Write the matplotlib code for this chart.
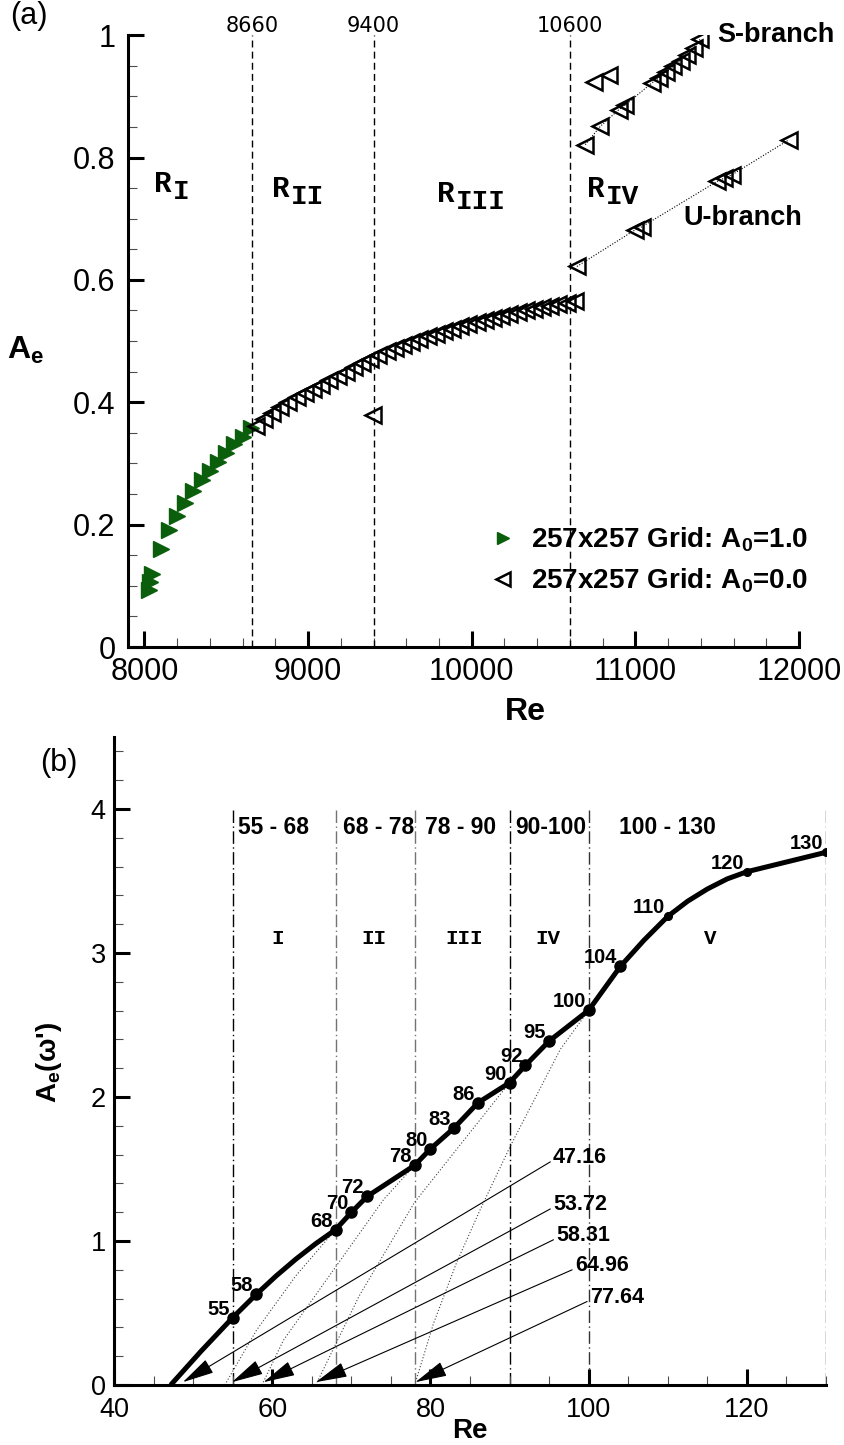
import matplotlib
matplotlib.use('Agg')
import matplotlib.pyplot as plt
from matplotlib.ticker import MultipleLocator

# ---------------- panel (a) : A_e versus Re, lid-driven cavity
re_a1 = [8030, 8035, 8045, 8100, 8150, 8200, 8250, 8300, 8350, 8400, 8450, 8500, 8550, 8600, 8650]
ae_a1 = [0.093, 0.107, 0.120, 0.161, 0.191, 0.214, 0.236, 0.255, 0.273, 0.288, 0.303, 0.317, 0.332, 0.344, 0.358]

re_a0 = [8680, 8730, 8780, 8830, 8880, 8930, 8980, 9030, 9080, 9130,
         9180, 9230, 9280, 9330, 9380, 9430, 9480, 9530, 9580, 9630,
         9680, 9730, 9780, 9830, 9880, 9930, 9980, 10030, 10080, 10130,
         10180, 10230, 10280, 10330, 10380, 10430, 10480, 10530, 10580, 10630]
ae_a0 = [0.361, 0.373, 0.383, 0.392, 0.400, 0.408, 0.415, 0.422, 0.429, 0.436,
         0.443, 0.450, 0.457, 0.464, 0.471, 0.477, 0.483, 0.488, 0.493, 0.498,
         0.503, 0.508, 0.512, 0.516, 0.520, 0.524, 0.528, 0.532, 0.535, 0.538,
         0.541, 0.544, 0.547, 0.550, 0.552, 0.555, 0.558, 0.561, 0.563, 0.566]

re_outlier = [9395]
ae_outlier = [0.379]
re_jump = [10745, 10837]
ae_jump = [0.924, 0.935]

re_s = [10694, 10786, 10898, 10939, 11102, 11143, 11188, 11231, 11276, 11317, 11357, 11394]
ae_s = [0.821, 0.851, 0.878, 0.886, 0.922, 0.930, 0.939, 0.949, 0.958, 0.968, 0.979, 0.993]
re_u = [10643, 11000, 11041, 11500, 11541, 11592, 11939]
ae_u = [0.622, 0.682, 0.687, 0.761, 0.766, 0.772, 0.829]

re_bounds = [8660, 9400, 10600]
bound_labels = ['8660', '9400', '10600']
region_names = ['I', 'II', 'III', 'IV']
region_re = [8061, 8778, 9788, 10706]
region_ae = [0.744, 0.736, 0.728, 0.736]

xticks_a = [8000, 9000, 10000, 11000, 12000]
yticks_a = [0, 0.2, 0.4, 0.6, 0.8, 1.0]
ylabels_a = ['0', '0.2', '0.4', '0.6', '0.8', '1']

# ---------------- panel (b) : A_e(w') versus Re
re_dots = [55, 58, 68, 70, 72, 78, 80, 83, 86, 90, 92, 95, 100, 104, 110, 120, 130]
ae_dots = [0.468, 0.631, 1.079, 1.199, 1.31, 1.526, 1.64, 1.786, 1.96, 2.10,
           2.22, 2.389, 2.603, 2.907, 3.255, 3.565, 3.70]
# extra points (no dot drawn there)
re_curve_extra = [47.16, 51, 60.5, 63, 65.5, 107, 112.5, 115, 117.5]
ae_curve_extra = [0.0, 0.235, 0.758, 0.875, 0.982, 3.09, 3.36, 3.445, 3.515]

# dotted fits drawn from the critical Re of each regime
fit_re = [[54.0, 58.0, 63.0, 68.0],
          [58.7, 61.4, 74.1, 78.0],
          [65.5, 71.0, 78.0, 90.0],
          [78.0, 80.4, 83.3, 86.3, 90.1, 96.4, 100.0]]
fit_ae = [[0.0, 0.38, 0.76, 1.079],
          [0.0, 0.31, 1.29, 1.526],
          [0.0, 0.62, 1.27, 2.10],
          [0.0, 0.43, 0.85, 1.22, 1.66, 2.33, 2.603]]

re_crit = [47.16, 53.72, 58.31, 64.96, 77.64]
arrow_tip = [48.7, 54.9, 58.9, 65.5, 78.1]
arrow_tail = [(95.15, 1.55), (95.15, 1.223), (95.55, 1.009), (97.9, 0.80), (99.8, 0.58)]

re_vlines = [55, 68, 78, 90, 100, 130]
range_labels = ['55 - 68', '68 - 78', '78 - 90', '90-100', '100 - 130']
range_x = [60.1, 73.4, 83.85, 95.15, 110.0]
regime_names = ['I', 'II', 'III', 'IV', 'V']
regime_x = [60.7, 72.9, 84.2, 94.8, 115.4]


plt.rcParams['font.family'] = 'Liberation Sans'
plt.rcParams['mathtext.default'] = 'regular'

fig = plt.figure(figsize=(8.44, 14.45), dpi=100)
ax1 = fig.add_axes([0.1517, 0.5522, 0.795, 0.4235])
ax2 = fig.add_axes([0.1351, 0.0415, 0.8436, 0.4484])


def style_axes(ax, lsize, xpad, ypad):
    for s in ['top', 'right']:
        ax.spines[s].set_visible(False)
    for s in ['left', 'bottom']:
        ax.spines[s].set_linewidth(2.2)
    ax.tick_params(which='major', direction='in', length=11.5, width=2.2,
                   labelsize=lsize, top=False, right=False)
    ax.tick_params(axis='x', which='major', pad=xpad)
    ax.tick_params(axis='y', which='major', pad=ypad)
    ax.tick_params(which='minor', direction='in', length=6.5, width=0.8,
                   color='0.3', top=False, right=False)


# ----- panel (a)
green = '#0b5e0b'
ax1.plot(re_a1, ae_a1, ls='none', marker='>', ms=11, color=green, mec=green,
         label='257x257 Grid: A$_0$=1.0')
open_kw = dict(marker='<', ms=12, mfc='none', mec='k', mew=1.8)
ax1.plot(re_a0, ae_a0, ls='none', label='257x257 Grid: A$_0$=0.0', **open_kw)
ax1.plot(re_outlier, ae_outlier, ls='none', **open_kw)
ax1.plot(re_jump, ae_jump, ls='none', **open_kw)
ax1.plot(re_s, ae_s, color='k', lw=0.8, ls=(0, (1, 1.5)), **open_kw)
ax1.plot(re_u, ae_u, color='k', lw=0.8, ls=(0, (1, 1.5)), **open_kw)

for x, lbl in zip(re_bounds, bound_labels):
    ax1.plot([x, x], [0, 1], color='k', lw=1.0, ls=(0, (5, 3)))
    ax1.text(x, 1.005, lbl, ha='center', va='baseline', family='DejaVu Sans', fontsize=15)

for x, y, name in zip(region_re, region_ae, region_names):
    ax1.text(x, y, 'R', family='Liberation Mono', weight='bold', fontsize=21,
             ha='left', va='baseline')
    ax1.annotate(name, (x, y), xytext=(13.5, -5), textcoords='offset points',
                 family='Liberation Mono', weight='bold', fontsize=20,
                 ha='left', va='baseline')

ax1.text(11500, 0.989, 'S-branch', fontsize=19.5, weight='bold', ha='left', va='baseline')
ax1.text(11294, 0.690, 'U-branch', fontsize=19.5, weight='bold', ha='left', va='baseline')

leg = ax1.legend(loc='center left', bbox_to_anchor=(0.538, 0.1415), frameon=False,
                 prop=dict(weight='bold', size=20), handlelength=1.0,
                 handletextpad=0.5, labelspacing=0.45, markerscale=0.85,
                 borderpad=0, borderaxespad=0)

ax1.set_xlim(7900, 12000)
ax1.set_ylim(0, 1)
ax1.set_xticks(xticks_a)
ax1.set_yticks(yticks_a)
ax1.set_yticklabels(ylabels_a)
ax1.xaxis.set_minor_locator(MultipleLocator(200))
ax1.yaxis.set_minor_locator(MultipleLocator(0.05))
style_axes(ax1, 22, 7.5, 9)
ax1.set_xlabel('Re', fontsize=23, weight='bold', va='top')
ax1.xaxis.set_label_coords(0.592, -0.082)
ax1.set_ylabel('A$_e$', fontsize=23, weight='bold', rotation=0, ha='center', va='center')
ax1.yaxis.set_label_coords(-0.153, 0.485)

# ----- panel (b)
curve = sorted(zip(re_dots + re_curve_extra, ae_dots + ae_curve_extra))
ax2.plot([c[0] for c in curve], [c[1] for c in curve], color='k', lw=3.6,
         solid_capstyle='butt', solid_joinstyle='round', zorder=4)
dot_size = [8] * 14 + [5.5] * 3
for x, y, s in zip(re_dots, ae_dots, dot_size):
    ax2.plot(x, y, 'o', color='k', ms=s, zorder=5)
    ax2.annotate(str(x), (x, y), xytext=(-2.2, 2.2), textcoords='offset points',
                 fontsize=14.5, weight='bold', ha='right', va='baseline')

for xs, ys in zip(fit_re, fit_ae):
    ax2.plot(xs, ys, color='0.25', lw=0.8, ls=(0, (1, 1.8)), zorder=2)

vcolors = ['k', '0.45', '0.45', 'k', '0.2', '0.2']
for x, c in zip(re_vlines, vcolors):
    ax2.plot([x, x], [0, 4.0], color=c, lw=1.0, ls=(0, (9, 2.5, 1, 2.5)), zorder=1)

for x, lbl in zip(range_x, range_labels):
    ax2.text(x, 3.87, lbl, fontsize=16.5, weight='bold', ha='center', va='center')
for x, name in zip(regime_x, regime_names):
    ax2.text(x, 3.10, name, family='Liberation Mono', weight='bold', fontsize=15,
             ha='center', va='center')

for rc, tip, tail in zip(re_crit, arrow_tip, arrow_tail):
    ax2.annotate('', xy=(tip, 0.02), xytext=tail,
                 arrowprops=dict(arrowstyle='-|>,head_length=1.0,head_width=0.24',
                                 mutation_scale=20, color='k', lw=0.8,
                                 shrinkA=0, shrinkB=0))
    ax2.annotate('%.2f' % rc, tail, xytext=(2, 3), textcoords='offset points',
                 fontsize=15.5, weight='bold', ha='left', va='center')

ax2.set_xlim(40, 130)
ax2.set_ylim(0, 4.5)
ax2.set_xticks([40, 60, 80, 100, 120])
ax2.set_yticks([0, 1, 2, 3, 4])
ax2.xaxis.set_minor_locator(MultipleLocator(5))
ax2.yaxis.set_minor_locator(MultipleLocator(0.2))
style_axes(ax2, 19.5, 8.5, 6)
ax2.set_xlabel('Re', fontsize=20, weight='bold', va='top')
ax2.xaxis.set_label_coords(0.5, -0.051)
ax2.set_ylabel("A$_e$(ω')", fontsize=20, weight='bold', va='center')
ax2.yaxis.set_label_coords(-0.091, 0.498)

fig.text(0.012, 0.999, '(a)', fontsize=22, va='top', ha='left')
fig.text(40 / 844, 1 - 748 / 1445, '(b)', fontsize=22, va='top', ha='left')

fig.savefig('out.png', dpi=100)
